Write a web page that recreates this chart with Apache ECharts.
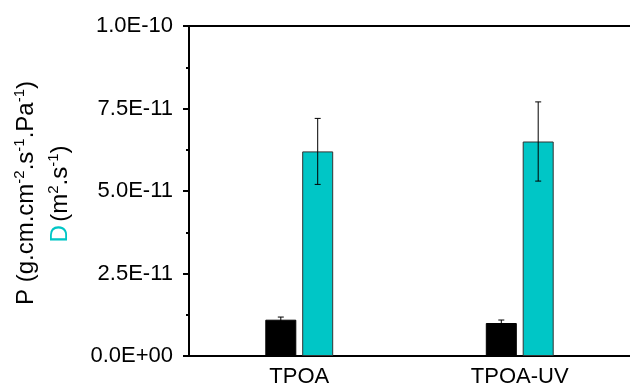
<!DOCTYPE html>
<html>
<head>
<meta charset="utf-8">
<script src="https://cdn.jsdelivr.net/npm/echarts@6/dist/echarts.min.js"></script>
<style>
html,body{margin:0;padding:0;background:#fff;}
#chart{width:630px;height:388px;}
</style>
</head>
<body>
<div id="chart"></div>
<script>
const categories = ['TPOA', 'TPOA-UV'];
const pValues = [1.1e-11, 1.0e-11];
const pErrors = [0.08e-11, 0.09e-11];
const dValues = [6.2e-11, 6.5e-11];
const dErrors = [1.0e-11, 1.2e-11];
const yTickLabels = ['0.0E+00', '2.5E-11', '5.0E-11', '7.5E-11', '1.0E-10'];

const FONT = 'Liberation Sans, Arial, sans-serif';
const CYAN = '#00c6c6';
const BAR_W = 31;
const BAR_GAP = 0.19;
const OFFSET = (BAR_W + BAR_W * BAR_GAP) / 2;

function errorRenderer(offset) {
  return function (params, api) {
    const x = api.value(0), v = api.value(1), e = api.value(2);
    const top = api.coord([x, v + e]);
    const bot = api.coord([x, v - e]);
    const cx = top[0] + offset;
    const cap = 3;
    const st = { stroke: '#000', lineWidth: 1 };
    return {
      type: 'group',
      children: [
        { type: 'line', shape: { x1: cx, y1: top[1], x2: cx, y2: bot[1] }, style: st },
        { type: 'line', shape: { x1: cx - cap, y1: top[1], x2: cx + cap, y2: top[1] }, style: st },
        { type: 'line', shape: { x1: cx - cap, y1: bot[1], x2: cx + cap, y2: bot[1] }, style: st }
      ]
    };
  };
}

const chart = echarts.init(document.getElementById('chart'), null, { renderer: 'canvas' });
const gridRect = { left: 189, top: 26, width: 452, height: 331 };

const option = {
  animation: false,
  backgroundColor: '#fff',
  grid: [
    Object.assign({ containLabel: false }, gridRect),
    Object.assign({ containLabel: false }, gridRect)
  ],
  xAxis: [
    {
      type: 'category', gridIndex: 0, position: 'bottom', data: categories,
      axisLine: { lineStyle: { color: '#000', width: 2 } },
      axisTick: { alignWithLabel: true, length: 6, lineStyle: { color: '#000', width: 2 } },
      axisLabel: { fontSize: 22, color: '#000', fontFamily: FONT, margin: 10 },
      splitLine: { show: false }
    },
    {
      type: 'category', gridIndex: 0, position: 'top', data: categories,
      axisLine: { lineStyle: { color: '#000', width: 2 } },
      axisTick: { inside: true, alignWithLabel: true, length: 5, lineStyle: { color: '#000', width: 2 } },
      axisLabel: { show: false },
      splitLine: { show: false }
    },
    {
      type: 'category', gridIndex: 1, position: 'bottom', data: categories,
      axisLine: { show: false },
      axisTick: { length: 3, lineStyle: { color: '#000', width: 2 } },
      axisLabel: { show: false },
      splitLine: { show: false }
    }
  ],
  yAxis: [
    {
      type: 'value', gridIndex: 0, min: 0, max: 1e-10, interval: 2.5e-11,
      axisLine: { show: true, lineStyle: { color: '#000', width: 2 } },
      axisTick: { show: true, length: 6, lineStyle: { color: '#000', width: 2 } },
      minorTick: { show: true, splitNumber: 2, length: 3, lineStyle: { color: '#000', width: 2 } },
      splitLine: { show: false },
      axisLabel: {
        fontSize: 22, color: '#000', fontFamily: FONT, margin: 16,
        formatter: function (v, i) { return yTickLabels[i]; }
      }
    },
    {
      type: 'value', gridIndex: 1, min: 0, max: 1e-10, show: false
    }
  ],
  graphic: [
    {
      type: 'text', rotation: Math.PI / 2, x: 26, y: 193, z: 10,
      style: {
        text: '{n|P (g.cm.cm}{s|-2}{n|.s}{s|-1}{n|.Pa}{s|-1}{n|)}',
        align: 'center', verticalAlign: 'middle',
        rich: {
          n: { fontSize: 24, fontFamily: FONT, fill: '#000', lineHeight: 28 },
          s: { fontSize: 15, fontFamily: FONT, fill: '#000', lineHeight: 15, verticalAlign: 'top' }
        }
      }
    },
    {
      type: 'text', rotation: Math.PI / 2, x: 60, y: 194, z: 10,
      style: {
        text: '{d|D} {n|(m}{s|2}{n|.s}{s|-1}{n|)}',
        align: 'center', verticalAlign: 'middle',
        rich: {
          d: { fontSize: 24, fontFamily: FONT, fill: CYAN, lineHeight: 28 },
          n: { fontSize: 24, fontFamily: FONT, fill: '#000', lineHeight: 28 },
          s: { fontSize: 15, fontFamily: FONT, fill: '#000', lineHeight: 15, verticalAlign: 'top' }
        }
      }
    }
  ],
  series: [
    {
      name: 'P', type: 'bar', xAxisIndex: 0, yAxisIndex: 0,
      barWidth: BAR_W, barGap: (BAR_GAP * 100) + '%',
      data: pValues,
      itemStyle: { color: '#000', borderColor: '#000', borderWidth: 1 }
    },
    {
      name: 'D', type: 'bar', xAxisIndex: 0, yAxisIndex: 0,
      barWidth: BAR_W, barGap: (BAR_GAP * 100) + '%',
      data: dValues,
      itemStyle: { color: CYAN, borderColor: '#333', borderWidth: 1 }
    },
    {
      type: 'custom', xAxisIndex: 0, yAxisIndex: 0, z: 5,
      renderItem: errorRenderer(-OFFSET),
      encode: { x: 0, y: 1 },
      data: categories.map((c, i) => [i, pValues[i], pErrors[i]])
    },
    {
      type: 'custom', xAxisIndex: 0, yAxisIndex: 0, z: 5,
      renderItem: errorRenderer(OFFSET),
      encode: { x: 0, y: 1 },
      data: categories.map((c, i) => [i, dValues[i], dErrors[i]])
    }
  ]
};
chart.setOption(option);
</script>
</body>
</html>
